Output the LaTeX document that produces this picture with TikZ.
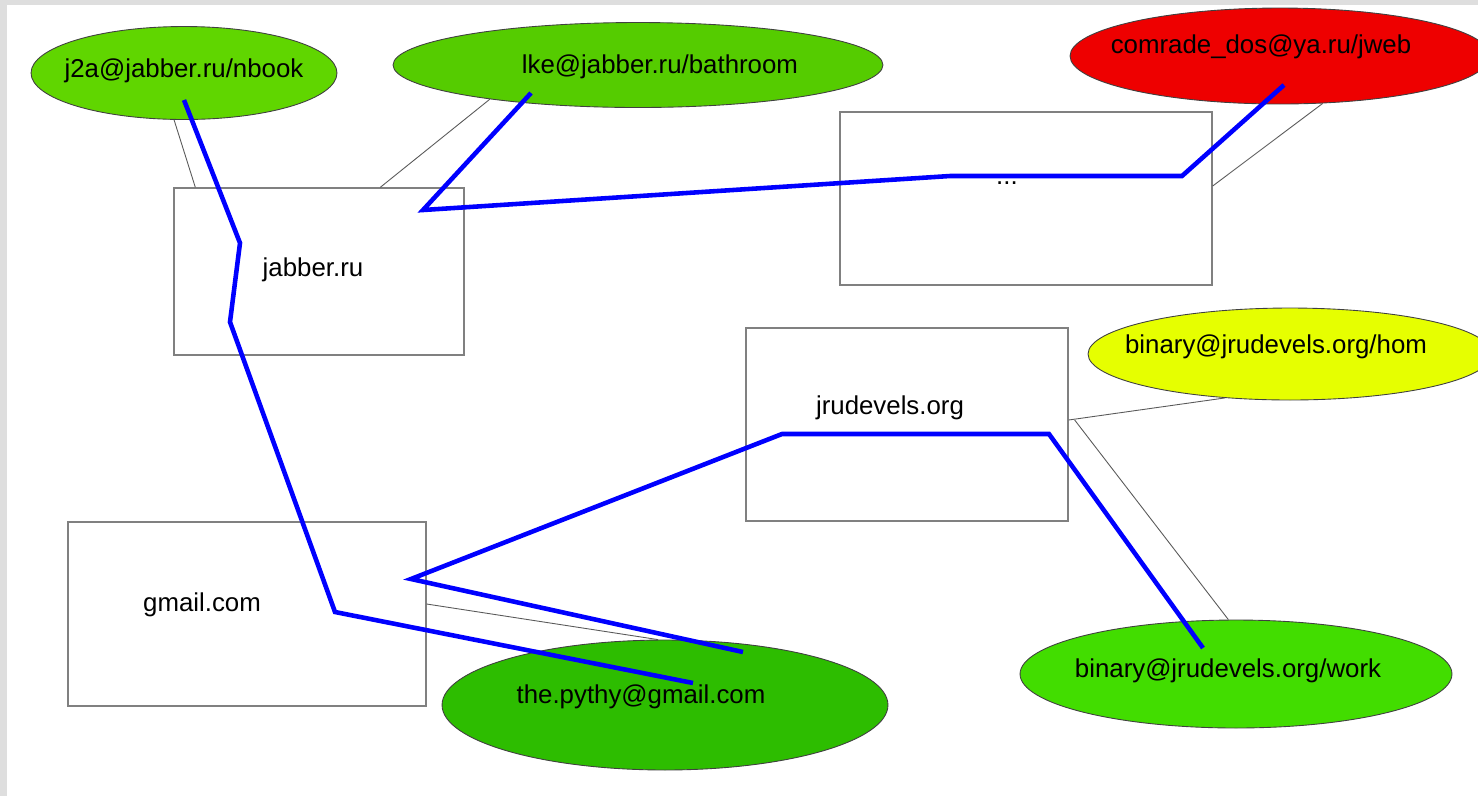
\documentclass[tikz,border=0pt]{standalone}
\usepackage{fontspec}
\setmainfont{Liberation Sans}
\usepackage{xcolor}
\usepackage{tikz}
\usetikzlibrary{positioning, shapes.geometric}

\definecolor{framegray}{RGB}{222,222,222}
\definecolor{nbookgreen}{RGB}{96,214,0}
\definecolor{bathgreen}{RGB}{85,204,0}
\definecolor{jwebred}{RGB}{238,0,0}
\definecolor{homyellow}{RGB}{230,255,0}
\definecolor{workgreen}{RGB}{66,221,0}
\definecolor{pythygreen}{RGB}{45,189,0}

\begin{document}
\begin{tikzpicture}[x=0.02cm, y=-0.02cm,
  font=\fontsize{14.7}{17}\selectfont,
  server/.style={draw=black!50, line width=0.8pt, rectangle, inner sep=0pt},
  account/.style={draw=black!75, line width=0.5pt, ellipse, inner sep=0pt},
  link/.style={draw=black!65, line width=0.5pt},
  route/.style={draw=blue, line width=2.6pt}]
  \useasboundingbox (0,0) rectangle (1478,796);
  \fill[framegray] (0,0) rectangle (1478,796);
  \fill[white] (7,5) rectangle (1478,796);
  \clip (0,0) rectangle (1478,796);

  % servers
  \node[server, minimum width=5.8cm, minimum height=3.34cm] (jabber) at (319,271.5) {};
  \node[server, minimum width=7.44cm, minimum height=3.46cm] (dots) at (1026,198.5) {};
  \node[server, minimum width=6.44cm, minimum height=3.86cm] (jru) at (907,424.5) {};
  \node[server, minimum width=7.16cm, minimum height=3.68cm] (gmail) at (247,614) {};
  \node (jabber-t) at (313,270) {jabber.ru};
  \node (dots-t) at (1007,183) {...};
  \node (jru-t) at (890,408) {jrudevels.org};
  \node (gmail-t) at (202,605) {gmail.com};

  % accounts
  \node[account, fill=nbookgreen, minimum width=6.12cm, minimum height=1.86cm] (nbook) at (184,73) {};
  \node[account, fill=bathgreen, minimum width=9.8cm, minimum height=1.7cm] (bath) at (638,65) {};
  \node[account, fill=jwebred, minimum width=8.4cm, minimum height=1.92cm] (jweb) at (1280,56) {};
  \node[account, fill=homyellow, minimum width=8.08cm, minimum height=1.84cm] (hom) at (1290,354) {};
  \node[account, fill=workgreen, minimum width=8.64cm, minimum height=2.16cm] (work) at (1236,674) {};
  \node[account, fill=pythygreen, minimum width=8.92cm, minimum height=2.6cm] (pythy) at (665,705) {};
  \node (nbook-t) at (184,71) {j2a@jabber.ru/nbook};
  \node (bath-t) at (660,67) {lke@jabber.ru/bathroom};
  \node (jweb-t) at (1261,47) {comrade\_dos@ya.ru/jweb};
  \node (hom-t) at (1276,347) {binary@jrudevels.org/hom};
  \node (work-t) at (1228,671) {binary@jrudevels.org/work};
  \node (pythy-t) at (641,697) {the.pythy@gmail.com};

  % links
  \draw[link] (nbook.-102) -- ([xshift=0.44cm]jabber.north west);
  \draw[link] (bath.-167) -- ([xshift=4.14cm]jabber.north west);
  \draw[link] (jweb.-48) -- ([yshift=0.25cm]dots.east);
  \draw[link] ([yshift=0.09cm]jru.east) -- (hom.-146);
  \draw[link] ([yshift=0.09cm, xshift=0.12cm]jru.east) -- (work.98);
  \draw[link] ([yshift=0.2cm]gmail.east) -- (pythy.96);

  % routes
  \coordinate (a0) at (184,100);
  \coordinate (a1) at (240,243);
  \coordinate (a2) at (230,322);
  \coordinate (a3) at (335,612);
  \coordinate (a4) at (693,683);
  \coordinate (b0) at (531,93);
  \coordinate (b1) at (423,210);
  \coordinate (b2) at (950,176);
  \coordinate (b3) at (1182,176);
  \coordinate (b4) at (1284,85);
  \coordinate (c0) at (743,652);
  \coordinate (c1) at (411,579);
  \coordinate (c2) at (782,434);
  \coordinate (c3) at (1049,434);
  \coordinate (c4) at (1203,648);
  \draw[route] (a0) -- (a1) -- (a2) -- (a3) -- (a4);
  \draw[route] (b0) -- (b1) -- (b2) -- (b3) -- (b4);
  \draw[route] (c0) -- (c1) -- (c2) -- (c3) -- (c4);
\end{tikzpicture}
\end{document}
